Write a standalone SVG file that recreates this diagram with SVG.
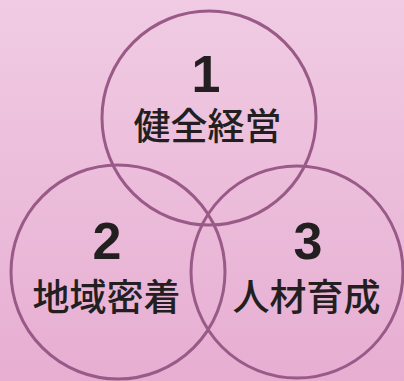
<svg xmlns="http://www.w3.org/2000/svg" width="404" height="381" viewBox="0 0 404 381">
  <defs>
    <linearGradient id="bg" x1="0" y1="0" x2="0" y2="1">
      <stop offset="0" stop-color="#f0cbe3"/>
      <stop offset="1" stop-color="#e7aed2"/>
    </linearGradient>
  </defs>
  <style>
    .ring { fill: none; stroke: #9a5a88; stroke-width: 3; }
    .num { font-family: "Liberation Sans", Arial, sans-serif; font-weight: bold; font-size: 52px; fill: #231f20; text-anchor: middle; }
    .lbl { font-family: "Liberation Sans", "Noto Sans CJK JP", "Noto Sans CJK SC", sans-serif; font-weight: 500; font-size: 37px; fill: #231f20; text-anchor: middle; }
  </style>
  <rect width="404" height="381" fill="url(#bg)"/>
  <g id="node1">
    <circle class="ring" cx="209" cy="118" r="107"/>
    <text class="num" x="206" y="92">1</text>
    <text class="lbl" x="207.5" y="140">健全経営</text>
  </g>
  <g id="node2">
    <circle class="ring" cx="118" cy="272" r="107"/>
    <text class="num" x="107" y="259">2</text>
    <text class="lbl" x="106.5" y="311">地域密着</text>
  </g>
  <g id="node3">
    <circle class="ring" cx="297" cy="272" r="106"/>
    <text class="num" x="308" y="259">3</text>
    <text class="lbl" x="306.5" y="311">人材育成</text>
  </g>
  <g id="connectors"></g>
</svg>
